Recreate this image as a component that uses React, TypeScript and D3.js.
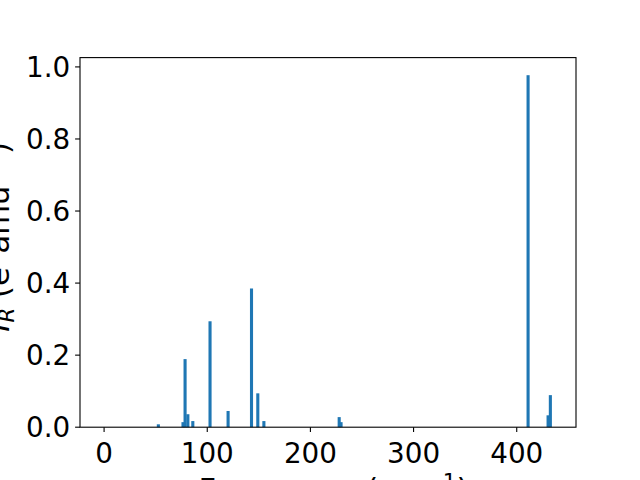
import * as d3 from "d3";

// IR modes: frequency (cm^-1) and intensity (e^2 amu^-1)
const frequencies = [0, 52.6, 76.5, 78.5, 81.2, 86.0, 102.7, 120.2, 142.9, 149.0, 154.9, 227.9, 229.7, 411.0, 430.4, 432.6, 434.1];
const intensities = [0.0, 0.008, 0.014, 0.189, 0.036, 0.017, 0.294, 0.045, 0.385, 0.094, 0.017, 0.028, 0.014, 0.977, 0.033, 0.089, 0.0];
const xTicks = [0, 100, 200, 300, 400];
const yTicks = [0, 0.2, 0.4, 0.6, 0.8, 1.0];

const BAR_WIDTH = 3;
const WIDTH = 640;
const HEIGHT = 480;
const MARGIN = { top: 57.6, right: 64, bottom: 52.8, left: 80 };
const FONT = "'DejaVu Sans', sans-serif";
const FS = 27.8; // tick labels, 20pt at 100 dpi
const LFS = 30.6; // axis labels, 22pt
const SUP = LFS * 0.7;
const LABEL_SHIFT = 5.5; // mathtext box offset
const BLUE = "#1f77b4";

export default function App() {
  const innerW = WIDTH - MARGIN.left - MARGIN.right;
  const innerH = HEIGHT - MARGIN.top - MARGIN.bottom;

  // matplotlib style 5% padding
  const lo = d3.min(frequencies)! - BAR_WIDTH / 2;
  const hi = d3.max(frequencies)! + BAR_WIDTH / 2;
  const pad = (hi - lo) * 0.05;
  const xScale = d3.scaleLinear().domain([lo - pad, hi + pad]).range([0, innerW]);

  const yMax = d3.max(intensities)! * 1.05;
  const yScale = d3.scaleLinear().domain([0, yMax]).range([innerH, 0]);

  const bars = frequencies.map((f, i) => (
    <rect
      key={i}
      x={xScale(f - BAR_WIDTH / 2)}
      width={xScale(f + BAR_WIDTH / 2) - xScale(f - BAR_WIDTH / 2)}
      y={yScale(intensities[i])}
      height={innerH - yScale(intensities[i])}
      fill={BLUE}
    />
  ));

  return (
    <svg
      width={WIDTH}
      height={HEIGHT}
      style={{ position: "absolute", top: 0, left: 0, background: "white" }}
      fontFamily={FONT}
    >
      <g transform={`translate(${MARGIN.left},${MARGIN.top})`}>
        {bars}
        <rect x={0} y={0} width={innerW} height={innerH} fill="none" stroke="black" strokeWidth={1.1} />
        {xTicks.map((t) => (
          <g key={t} transform={`translate(${xScale(t)},${innerH})`}>
            <line y1={0} y2={4.9} stroke="black" strokeWidth={1.1} />
            <text y={35.6} textAnchor="middle" fontSize={FS} fill="black">
              {t}
            </text>
          </g>
        ))}
        {yTicks.map((t) => (
          <g key={t} transform={`translate(0,${yScale(t)})`}>
            <line x1={0} x2={-4.9} stroke="black" strokeWidth={1.1} />
            <text x={-9.8} y={10.1} textAnchor="end" fontSize={FS} fill="black">
              {t.toFixed(1)}
            </text>
          </g>
        ))}
      </g>
      <text
        x={MARGIN.left + innerW / 2 + LABEL_SHIFT}
        y={500}
        textAnchor="middle"
        fontSize={LFS}
        fill="black"
      >
        Frequency (cm
        <tspan dy={-11} fontSize={SUP}>−1</tspan>
        <tspan dy={11}>)</tspan>
      </text>
      <text
        transform={`translate(8.5,${MARGIN.top + innerH / 2 - LABEL_SHIFT}) rotate(-90)`}
        textAnchor="middle"
        fontSize={LFS}
        fill="black"
      >
        <tspan fontStyle="italic">I</tspan>
        <tspan dy={5} fontSize={SUP} fontStyle="italic">R</tspan>
        <tspan dy={-5}> (e</tspan>
        <tspan dy={-11} fontSize={SUP}>2</tspan>
        <tspan dy={11}>amu</tspan>
        <tspan dy={-11} fontSize={SUP}>−1</tspan>
        <tspan dy={11}>)</tspan>
      </text>
    </svg>
  );
}
